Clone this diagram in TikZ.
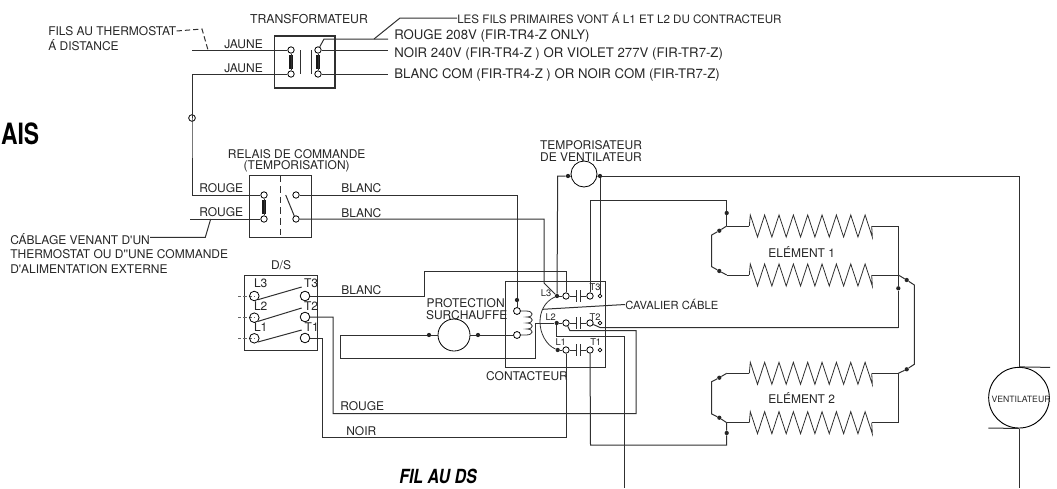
\documentclass[tikz,border=0pt]{standalone}
\usepackage{fontspec}
\usepackage{graphicx}
\usetikzlibrary{calc}
\setmainfont[Ligatures=TeXOff]{TeX Gyre Heros}
\definecolor{ink}{HTML}{262626}
\definecolor{wire}{HTML}{303030}
\tikzset{
  lbl/.style={font=\fontsize{9}{10}\selectfont,text=ink,inner sep=0pt,anchor=center},
  lbll/.style={lbl,anchor=west},
  lblw/.style={lbll,font=\fontsize{9.9}{11}\selectfont},
  tiny/.style={font=\fontsize{7}{8}\selectfont,text=ink,inner sep=0pt,anchor=center},
  wr/.style={draw=wire,line width=0.75pt,line join=miter},
  boxr/.style={draw=wire,line width=0.8pt},
  term/.style={circle,draw=black,line width=0.6pt,fill=white,inner sep=0pt,minimum size=4.8pt},
  bigterm/.style={term,minimum size=7.2pt},
  cterm/.style={term,minimum size=4.8pt},
  smallterm/.style={term,minimum size=2.8pt},
  dot/.style={circle,fill=black!85,inner sep=0pt,minimum size=3.2pt},
  comp/.style={circle,draw=black,line width=0.6pt,inner sep=0pt},
  coilbar/.style={line width=3.2pt,black!90},
  coilbarb/.style={line width=2.7pt,black!90}
}
\newcommand{\zig}[2]{%
  \draw[wr,line width=0.6pt] (#1) -- ++(1,-11)
    \foreach \k in {0,...,7}{ -- ++(7.2,22) -- ++(7.15,-22) }
    -- ++(7.2,22) -- (#2);
}
\begin{document}
\begin{tikzpicture}[x=0.75pt,y=-0.75pt]
\useasboundingbox (0,0) rectangle (1057,489);

% ---------- transformer
\node[boxr,minimum width=45.4pt,minimum height=39pt,inner sep=0pt] (trbox) at (304.7,62) {};
\node[term] (trA) at (291,50) {};
\node[term] (trB) at (291,74) {};
\node[term] (trC) at (318,50) {};
\node[term] (trD) at (318,74) {};
\draw[coilbar] (trA) ++(0,5) -- ++(0,14);
\draw[coilbar] (trC) ++(0,5) -- ++(0,14);
\draw[wire,line width=0.6pt] (trA.south) -- (trB.north);
\draw[wire,line width=0.6pt] (trC.south) -- (trD.north);
\coordinate (core1a) at (300,50); \coordinate (core1b) at (300,74);
\coordinate (core2a) at (311,50); \coordinate (core2b) at (311,74);
\draw[wr] (core1a) -- (core1b);
\draw[wr] (core2a) -- (core2b);
\coordinate (jauneA) at (192,50);
\coordinate (jauneB) at (192,74);
\coordinate (relayCorner) at (192,195);
\node[comp,minimum size=5pt] (splice) at (192,118) {};
\coordinate (rougeEnd) at (388,39);
\coordinate (noirEnd) at (388,50);
\coordinate (blancEnd) at (388,74);
\coordinate (rougeKnee) at (324,39);
\draw[wr] (trC) -- (rougeKnee) -- (rougeEnd);
\draw[wr] (trC) -- (noirEnd);
\draw[wr] (trD) -- (blancEnd);

% ---------- transformer labels
\node[lbl,font=\fontsize{9.2}{10}\selectfont] (ltr) at (309,19) {TRANSFORMATEUR};
\node[lbll] (lfils) at (48,31) {FILS AU THERMOSTAT};
\node[lbll] (ldist) at (48,45.5) {Á DISTANCE};
\node[lbll] (lj1) at (224,44) {JAUNE};
\node[lbll] (lj2) at (224,68) {JAUNE};
\node[lbll,font=\fontsize{8.7}{10}\selectfont] (lprim) at (457,18) {LES FILS PRIMAIRES VONT Á L1 ET L2 DU CONTRACTEUR};
\node[lblw] (lr208) at (394,36) {ROUGE 208V (FIR-TR4-Z ONLY)};
\node[lblw] (ln240) at (394,54) {NOIR 240V (FIR-TR4-Z ) OR VIOLET 277V (FIR-TR7-Z)};
\node[lblw] (lbcom) at (394,75) {BLANC COM (FIR-TR4-Z ) OR NOIR COM (FIR-TR7-Z)};
\coordinate (dashKnee) at (202,29);
\coordinate (dashEnd) at (208,50);
\draw[wr,dash pattern=on 4pt off 2.2pt] (lfils.east) -- (dashKnee) -- (dashEnd);
\coordinate (primTap) at (374,39);
\coordinate (primKnee) at (400,18);
\draw[wr] (primTap) -- (primKnee) -- (lprim.west);

% ---------- relay
\node[boxr,minimum width=46.7pt,minimum height=46.5pt,inner sep=0pt] (relay) at (280.2,206.7) {};
\node[term] (reA) at (264,195) {};
\node[term] (reB) at (264,219) {};
\node[term] (reC) at (296,195) {};
\node[term] (reD) at (296,219) {};
\draw[coilbarb] (reA) ++(0,5) -- ++(0,14);
\draw[wire,line width=0.6pt] (reA.south) -- (reB.north);
\draw[wr,dash pattern=on 5pt off 3pt] (relay.north) -- (relay.south);
\coordinate (bladeA) at (285.7,195);
\coordinate (bladeB) at (294.5,216.5);
\draw[wr] (bladeA) -- (bladeB);
\node[lbl] (lrel1) at (296.7,154) {RELAIS DE COMMANDE};
\node[lbl] (lrel2) at (296.7,166) {(TEMPORISATION)};
\node[lbll] (lrg1) at (199,188) {ROUGE};
\node[lbll] (lrg2) at (199,212.5) {ROUGE};
\node[lbll] (lbl1) at (341,188) {BLANC};
\node[lbll] (lbl2) at (341,213) {BLANC};
\coordinate (rougeIn) at (190,219);
\draw[wr] (rougeIn) -- (reB);
\draw[wr] (trA) -- (jauneA);
\draw[wr] (trB) -- (jauneB) -- (splice.north);
\draw[wr] (splice.north) -- (splice.south) -- (relayCorner) -- (reA);

% ---------- cable note
\node[lbll] (lcab1) at (10,239) {CÁBLAGE VENANT D'UN};
\node[lbll] (lcab2) at (10,254) {THERMOSTAT OU D''UNE COMMANDE};
\node[lbll] (lcab3) at (10,269) {D'ALIMENTATION EXTERNE};
\coordinate (cabKnee) at (205.3,237.3);
\coordinate (cabTap) at (210.7,219);
\draw[wr] (lcab1.east |- cabKnee) -- (cabKnee) -- (cabTap);

% ---------- disconnect
\node[boxr,minimum width=54.7pt,minimum height=55.7pt,inner sep=0pt] (ds) at (280.8,312.9) {};
\node[lbl] (lds) at (281,265) {D/S};
\foreach \n/\yy in {dL3/296,dL2/317.7,dL1/338.3}{
  \coordinate (stub\n) at (238,\yy);
  \coordinate (stubend\n) at (254.3,\yy);
  \draw[wr,black!60,dash pattern=on 2.5pt off 1.5pt] (stub\n) -- (stubend\n);
}
\node[bigterm,fill=none] (dL3) at (254.3,296) {};
\node[bigterm,fill=none] (dL2) at (254.3,317.7) {};
\node[bigterm,fill=none] (dL1) at (254.3,338.3) {};
\node[bigterm] (dT3) at (305,296) {};
\node[bigterm] (dT2) at (305,317) {};
\node[bigterm] (dT1) at (305,338) {};
\coordinate (bl3) at (301.7,287); \coordinate (bl2) at (301.7,308); \coordinate (bl1) at (301.7,330);
\draw[wr] (dL3.-45) -- (bl3);
\draw[wr] (dL2.-45) -- (bl2);
\draw[wr] (dL1.-45) -- (bl1);
\node[lbl] at (260.7,283) {L3};
\node[lbl] at (311,283) {T3};
\node[lbl] at (260.7,306) {L2};
\node[lbl] at (311,306) {T2};
\node[lbl] at (260.7,327) {L1};
\node[lbl] at (311.7,327) {T1};

% ---------- contactor
\node[boxr,minimum width=74.7pt,minimum height=64.5pt,inner sep=0pt] (ctbox) at (555.5,324.7) {};
\node[lbl] (lct) at (527,375.7) {CONTACTEUR};
\node[cterm] (cL3) at (566,296) {};
\node[cterm] (cL2) at (566,323) {};
\node[cterm] (cL1) at (566,350) {};
\node[cterm] (cT3) at (590,296) {};
\node[cterm] (cT2) at (590,323) {};
\node[cterm] (cT1) at (590,350) {};
\node[smallterm] (sT3) at (600,296) {};
\node[smallterm] (sT2) at (600,323) {};
\node[smallterm] (sT1) at (600,350) {};
\foreach \c/\d in {cL3/cT3,cL2/cT2,cL1/cT1}{
  \draw[wr] (\c) -- ($(\c)+(10,0)$);
  \draw[wr] (\d) -- ($(\d)+(-9.4,0)$);
  \draw[wr] ($(\c)+(10,-6)$) -- ($(\c)+(10,6)$);
  \draw[wr] ($(\d)+(-9.4,-6)$) -- ($(\d)+(-9.4,6)$);
}
\node[dot] (dotL3) at (557,296) {};
\node[dot] (dotL2) at (556.7,323) {};
\node[dot] (dotL1) at (557.7,350) {};
\draw[wr] (dotL3) -- (cL3);
\draw[wr] (dotL2) -- (cL2);
\draw[wr] (dotL1) -- (cL1);
\draw[wr,line width=0.6pt] (dotL3) .. controls (544,302) and (540,312) .. (540,322)
   .. controls (540,333) and (546,345) .. (dotL1);
\coordinate (cavTap) at (542.7,309.3);
\node[lbll,font=\fontsize{8.4}{10}\selectfont] (lcav) at (625,304.5) {CAVALIER CÁBLE};
\draw[wr] (cavTap) -- (lcav.west);
\node[tiny] at (546,293) {L3};
\node[tiny] at (595,287) {T3};
\node[tiny] at (550.7,316.7) {L2};
\node[tiny] at (595,316.7) {T2};
\node[tiny] at (560.7,341.7) {L1};
\node[tiny] at (595.7,341.7) {T1};

% coil in contactor
\node[term,minimum size=5.2pt] (coA) at (517,311) {};
\node[term,minimum size=5.2pt] (coB) at (517,335) {};
\node[dot] (coT) at (517,300) {};
\draw[wr] (coT) -- (coA);
\draw[wr,line width=0.6pt] (coA.east) -- (526,311)
  .. controls (534,311) and (534,317) .. (527,317)
  .. controls (534,317) and (534,323) .. (527,323)
  .. controls (534,323) and (534,329) .. (527,329)
  .. controls (534,329) and (534,335) .. (526,335) -- (coB.east);

% ---------- overheat protection
\node[comp,minimum size=24pt] (over) at (454,335) {};
\node[dot] (ovL) at (429,335) {};
\node[dot] (ovR) at (478,335) {};
\node[lbl] (lprot) at (465.7,302.7) {PROTECTION};
\node[lbl] (lsur) at (466.7,315) {SURCHAUFFE};
\draw[wr] (over.east) -- (ovR) -- (coB);
\coordinate (ovK1) at (340,335);
\coordinate (ovK2) at (340,358);
\coordinate (ovK3) at (535,358);
\coordinate (ovK4) at (535,323);
\draw[wr] (over.west) -- (ovL) -- (ovK1) -- (ovK2) -- (ovK3) -- (ovK4) -- (dotL2);

% ---------- fan timer
\node[comp,minimum size=19.5pt] (timer) at (584,174) {};
\node[dot] (tiL) at (568,176) {};
\node[dot] (tiR) at (600,176) {};
\node[lbl] (ltem) at (591,145) {TEMPORISATEUR};
\node[lbl] (ldev) at (591,157) {DE VENTILATEUR};
\coordinate (tiK) at (557.7,176);
\draw[wr] (tiL) -- (timer.190);
\draw[wr] (tiR) -- (timer.-10);
\draw[wr] (tiL) -- (tiK) -- (dotL3);
\draw[wr] (tiR) -- (sT3);

% ---------- fan
\node[comp,minimum size=45.5pt,line width=0.7pt] (fan) at (1019,397.7) {};
\node[font=\fontsize{6.5}{8}\selectfont,text=ink,inner sep=0pt] (lfan) at (1021,399.5) {VENTILATEUR};
\coordinate (fanKnee) at (1019,176);
\coordinate (fanBot) at (1019,488);
\coordinate (fanTickA) at (1050,367.4);
\coordinate (fanTickB) at (988.3,428);
\draw[wr] (tiR) -- (fanKnee) -- (fan.north);
\draw[wr] (fan.south) -- (fanBot);
\draw[wr] (fan.north) -- (fanTickA);
\draw[wr] (fan.south) -- (fanTickB);

% ---------- element 1
\coordinate (e1a) at (726.7,226);
\coordinate (e1b) at (726.7,275);
\coordinate (e1c) at (898.3,226);
\coordinate (e1d) at (898.3,275);
\coordinate (z1a) at (749.3,226); \coordinate (z1b) at (871.7,226);
\coordinate (z1c) at (749.3,275); \coordinate (z1d) at (871.7,275);
\draw[wr] (e1a) -- (z1a);
\draw[wr] (e1b) -- (z1c);
\draw[wr] (z1b) -- (e1c);
\draw[wr] (z1d) -- (e1d);
\zig{z1a}{z1b}
\zig{z1c}{z1d}
\node[lbl] (le1) at (801.7,252.3) {ELÉMENT 1};
\node[dot] (e1p) at (719.3,230.7) {};
\node[dot] (e1q) at (719.3,271) {};
\node[dot] (e1t) at (726.7,213) {};
\coordinate (e1l1) at (711.7,235);
\coordinate (e1l2) at (711.7,266.7);
\draw[wr] (e1a) -- (e1p) -- (e1l1) -- (e1l2) -- (e1q) -- (e1b);

% ---------- element 2
\coordinate (e2a) at (726.7,373.3);
\coordinate (e2b) at (726.7,422.7);
\coordinate (e2c) at (898.3,373.3);
\coordinate (e2d) at (898.3,422.7);
\coordinate (z2a) at (749.3,373.3); \coordinate (z2b) at (871.7,373.3);
\coordinate (z2c) at (749.3,422.7); \coordinate (z2d) at (871.7,422.7);
\draw[wr] (e2a) -- (z2a);
\draw[wr] (e2b) -- (z2c);
\draw[wr] (z2b) -- (e2c);
\draw[wr] (z2d) -- (e2d);
\zig{z2a}{z2b}
\zig{z2c}{z2d}
\node[lbl] (le2) at (801.7,398.3) {ELÉMENT 2};
\node[dot] (e2p) at (719.3,377.7) {};
\node[dot] (e2q) at (719.3,417.7) {};
\node[dot] (e2t) at (726.7,433) {};
\coordinate (e2l1) at (711.7,381.7);
\coordinate (e2l2) at (711.7,414);
\draw[wr] (e2a) -- (e2p) -- (e2l1) -- (e2l2) -- (e2q) -- (e2b);
\draw[wr] (e2c) -- (e2d);

% ---------- bridge at right of elements
\node[dot] (e1r) at (906.7,280) {};
\node[dot] (e2r) at (906.7,369.3) {};
\node[dot] (e1s) at (898.3,288.3) {};
\coordinate (brA) at (914.3,285);
\coordinate (brB) at (914.3,364.3);
\draw[wr] (e1d) -- (e1r) -- (brA) -- (brB) -- (e2r) -- (e2c);
\coordinate (t2run) at (898.3,327.5);
\draw[wr] (e1c) -- (e1s) -- (t2run);

% ---------- wiring between blocks
\coordinate (b1K) at (517,195);
\draw[wr] (reC) -- (b1K) -- (coT);
\coordinate (b2K1) at (544,219);
\coordinate (b2K2) at (544,283);
\draw[wr] (reD) -- (b2K1) -- (b2K2) -- (dotL3);
\coordinate (blK1) at (424,296);
\coordinate (blK2) at (424,271.5);
\coordinate (blK3) at (566,271.5);
\draw[wr] (dT3) -- (blK1) -- (blK2) -- (blK3) -- (cL3);
\node[lbll] (lbl3) at (341,290) {BLANC};
% T3 to element 1
\coordinate (t3K1) at (590,200.5);
\coordinate (t3K2) at (726.7,200.5);
\draw[wr] (cT3) -- (t3K1) -- (t3K2) -- (e1t) -- (e1a);
% T2 to element bridge
\coordinate (t2K) at (600,327.5);
\draw[wr] (cT2) -- (t2K) -- (t2run);
% L2 to line
\coordinate (l2a) at (556.7,336.7);
\coordinate (l2b) at (624.3,336.7);
\coordinate (l2c) at (624.3,488);
\draw[wr] (dotL2) -- (l2a) -- (l2b) -- (l2c);
% L2 terminal to T2 of D/S (ROUGE)
\coordinate (rgA) at (570,330.7);
\coordinate (rgB) at (636,330.7);
\coordinate (rgC) at (636,413.7);
\coordinate (rgD) at (333,413.7);
\coordinate (rgE) at (333,317);
\draw[wr] (cL2) -- (rgA) -- (rgB) -- (rgC) -- (rgD) -- (rgE) -- (dT2);
\node[lbll] (lroug) at (340,406.5) {ROUGE};
% L1 terminal to T1 of D/S (NOIR)
\coordinate (nrA) at (566,437.3);
\coordinate (nrB) at (322.7,437.3);
\coordinate (nrC) at (322.7,338);
\draw[wr] (cL1) -- (nrA) -- (nrB) -- (nrC) -- (dT1);
\node[lbll] (lnoir) at (346,431.5) {NOIR};
% T1 to element 2
\coordinate (t1K1) at (590.5,445);
\coordinate (t1K2) at (726.7,445);
\draw[wr] (cT1) -- (t1K1) -- (t1K2) -- (e2t) -- (e2b);

% ---------- bold captions
\node[inner sep=0pt,anchor=east,text=black] (lais) at (39.5,134) {\fontsize{22}{24}\selectfont\bfseries\scalebox{0.78}[1]{AIS}};
\node[inner sep=0pt,text=black] (lfil) at (438,476.5) {\fontsize{14.6}{17}\selectfont\bfseries\itshape\scalebox{0.82}[1]{FIL AU DS}};
\end{tikzpicture}
\end{document}
